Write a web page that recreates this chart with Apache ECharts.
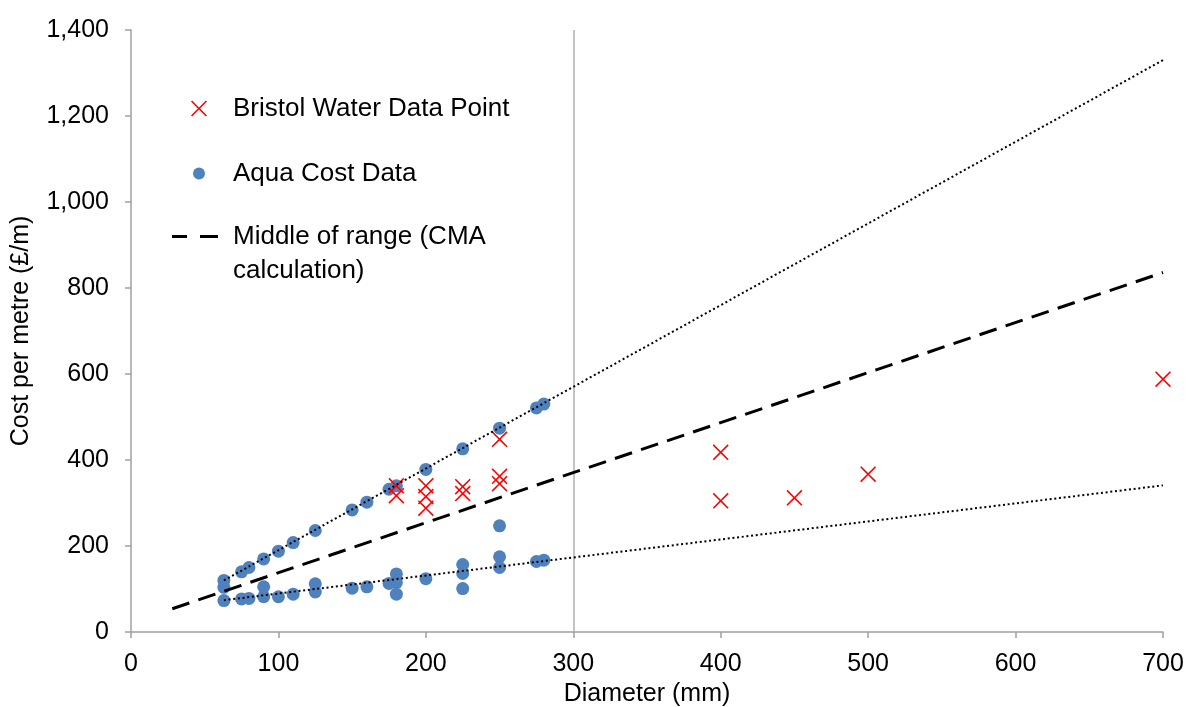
<!DOCTYPE html>
<html>
<head>
<meta charset="utf-8">
<script src="https://cdn.jsdelivr.net/npm/echarts@6/dist/echarts.min.js"></script>
<style>
  html, body { margin: 0; padding: 0; background: #fff; }
  #chart { width: 1189px; height: 707px; }
</style>
</head>
<body>
<div id="chart"></div>
<script>
// Bristol Water data points (diameter mm, cost £/m)
var bristolDiameter = [180, 180, 200, 200, 200, 225, 225, 250, 250, 250, 400, 400, 450, 500, 700];
var bristolCost     = [340, 317, 340, 315, 288, 338, 322, 448, 362, 345, 418, 305, 312, 367, 588];

// Aqua cost data
var aquaDiameter = [63, 63, 63, 75, 75, 80, 80, 90, 90, 90, 100, 100, 110, 110, 125, 125, 125,
                    150, 150, 160, 160, 175, 175, 180, 180, 180, 180, 200, 200,
                    225, 225, 225, 225, 250, 250, 250, 250, 275, 275, 280, 280];
var aquaCost     = [120, 104, 73, 140, 77, 150, 78, 170, 105, 82, 188, 82, 208, 88, 236, 112, 93,
                    284, 102, 302, 105, 332, 113, 340, 135, 115, 88, 378, 124,
                    426, 157, 136, 101, 474, 247, 175, 150, 521, 164, 530, 167];

// range lines (end points)
var upperX = [63, 700],  upperY = [120, 1330];
var lowerX = [63, 700],  lowerY = [74, 341];
var middleX = [28, 700], middleY = [54, 836];

var refLineX = [300];

function pairs(xs, ys) {
  return xs.map(function (x, i) { return [x, ys[i]]; });
}

var FONT = 'Liberation Sans, Arial, sans-serif';
var crossPath = 'path://M7,0L50,43L93,0L100,7L57,50L100,93L93,100L50,57L7,100L0,93L43,50L0,7Z';
var dashIcon = 'path://M0,0H15V3H0Z M28,0H46V3H28Z';

var chart = echarts.init(document.getElementById('chart'));

var legendText = { fontSize: 26, fontFamily: FONT, color: '#000', lineHeight: 33 };

var option = {
  animation: false,
  backgroundColor: '#fff',
  textStyle: { fontFamily: FONT },
  grid: { left: 131, right: 26, top: 30, bottom: 75, containLabel: false, outerBoundsMode: 'none' },
  legend: [
    {
      data: ['Bristol Water Data Point'],
      left: 191, top: 92, padding: 0,
      itemWidth: 16, itemHeight: 16,
      textStyle: Object.assign({ padding: [0, 0, 0, 21] }, legendText)
    },
    {
      data: ['Aqua Cost Data'],
      left: 193, top: 157, padding: 0,
      itemWidth: 12, itemHeight: 12,
      textStyle: Object.assign({ padding: [0, 0, 0, 23] }, legendText)
    },
    {
      data: [{ name: 'Middle of range (CMA calculation)', icon: dashIcon }],
      left: 172, top: 220, padding: 0,
      itemWidth: 46, itemHeight: 3,
      itemStyle: { color: '#000' },
      formatter: function () { return 'Middle of range (CMA'; },
      textStyle: Object.assign({ padding: [0, 0, 0, 10] }, legendText)
    }
  ],
  graphic: [
    {
      type: 'text',
      left: 233, top: 258,
      style: { text: 'calculation)', font: '26px ' + FONT, fill: '#000' }
    }
  ],
  xAxis: {
    type: 'value',
    min: 0, max: 700, interval: 100,
    name: 'Diameter (mm)',
    nameLocation: 'middle',
    nameGap: 45,
    nameTextStyle: { fontSize: 25, color: '#000', fontFamily: FONT },
    axisLine: { show: true, lineStyle: { color: '#a0a0a0', width: 1.5 } },
    axisTick: { show: true, length: 6, lineStyle: { color: '#a0a0a0', width: 1.5 } },
    axisLabel: { fontSize: 25, color: '#000', margin: 20, fontFamily: FONT },
    splitLine: { show: false }
  },
  yAxis: {
    type: 'value',
    min: 0, max: 1400, interval: 200,
    name: 'Cost per metre (£/m)',
    nameLocation: 'middle',
    nameGap: 97,
    nameTextStyle: { fontSize: 25, color: '#000', fontFamily: FONT },
    axisLine: { show: true, lineStyle: { color: '#a0a0a0', width: 1.5 } },
    axisTick: { show: true, length: 6, lineStyle: { color: '#a0a0a0', width: 1.5 } },
    axisLabel: {
      fontSize: 25, color: '#000', margin: 22, fontFamily: FONT,
      formatter: function (v) { return v.toLocaleString('en-US'); }
    },
    splitLine: { show: false }
  },
  series: [
    {
      name: 'Aqua Cost Data',
      type: 'scatter',
      data: pairs(aquaDiameter, aquaCost),
      symbol: 'circle',
      symbolSize: 13,
      itemStyle: { color: '#4f81bd', opacity: 1 },
      z: 2
    },
    {
      name: 'Bristol Water Data Point',
      type: 'scatter',
      data: pairs(bristolDiameter, bristolCost),
      symbol: crossPath,
      symbolSize: 16,
      itemStyle: { color: '#ff0000', opacity: 1 },
      z: 3,
      markLine: {
        silent: true,
        symbol: ['none', 'none'],
        label: { show: false },
        lineStyle: { color: '#b0b0b0', type: 'solid', width: 1.5 },
        data: refLineX.map(function (x) { return { xAxis: x }; }),
        z: 1
      }
    },
    {
      name: 'Upper range',
      type: 'line',
      data: pairs(upperX, upperY),
      symbol: 'none',
      lineStyle: { color: '#000', width: 2, type: [2, 2.7] },
      z: 5
    },
    {
      name: 'Lower range',
      type: 'line',
      data: pairs(lowerX, lowerY),
      symbol: 'none',
      lineStyle: { color: '#000', width: 2, type: [2, 2.7] },
      z: 5
    },
    {
      name: 'Middle of range (CMA calculation)',
      type: 'line',
      data: pairs(middleX, middleY),
      symbol: 'none',
      lineStyle: { color: '#000', width: 3, type: [18, 9.5] },
      z: 5
    }
  ]
};

chart.setOption(option);
</script>
</body>
</html>
